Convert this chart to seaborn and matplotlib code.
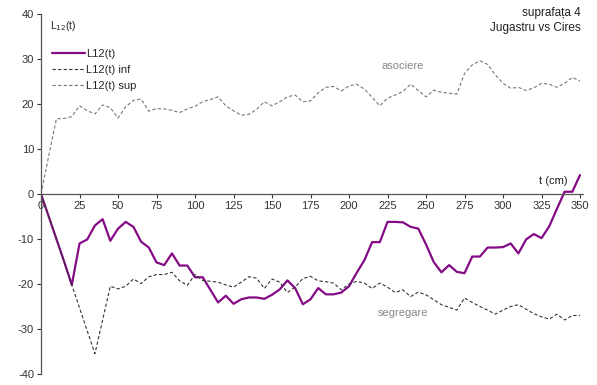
import numpy as np
import pandas as pd
import matplotlib
matplotlib.use("Agg")
import matplotlib.pyplot as plt
import seaborn as sns

# distance t (cm), every 5 cm
t_cm = list(range(0, 355, 5))

l12 = [0, -5, -10, -15, -20.2, -11, -10.1, -7.0, -5.6, -10.4,
       -7.7, -6.2, -7.3, -10.6, -11.9, -15.2, -15.8, -13.2, -15.9, -15.9,
       -18.5, -18.5, -21.3, -24.1, -22.6, -24.4, -23.4, -23.0, -23.0, -23.3,
       -22.4, -21.2, -19.2, -20.9, -24.5, -23.4, -20.9, -22.3, -22.3, -21.9,
       -20.5, -17.5, -14.7, -10.7, -10.7, -6.2, -6.2, -6.3, -7.3, -7.7,
       -11.2, -15.1, -17.4, -15.8, -17.3, -17.6, -13.9, -13.9, -11.9, -11.9,
       -11.8, -11.0, -13.2, -10.1, -8.9, -9.8, -7.2, -3.3, 0.5, 0.5,
       4.2]

l12_inf = [0, -5, -10, -15, -20.2, -25.3, -30.4, -35.5, -28, -20.5,
           -21.1, -20.5, -18.9, -19.9, -18.4, -17.9, -17.9, -17.4, -19.3, -20.3,
           -17.9, -19.2, -19.4, -19.6, -20.2, -20.7, -19.6, -18.4, -18.7, -21.0,
           -18.9, -19.6, -21.9, -20.7, -18.8, -18.3, -19.3, -19.5, -19.8, -21.3,
           -20.0, -19.4, -19.8, -21.0, -19.8, -20.7, -21.9, -21.3, -22.8, -21.8,
           -22.4, -23.5, -24.6, -25.2, -25.8, -23.1, -24.1, -25.0, -25.8, -26.7,
           -25.8, -25.0, -24.6, -25.6, -26.6, -27.3, -27.8, -26.7, -28.0, -27.0,
           -27.0]

l12_sup = [0, 8.5, 16.7, 16.8, 17.2, 19.6, 18.5, 17.8, 19.8, 19.2,
           16.9, 19.4, 20.8, 21.1, 18.4, 19.0, 18.9, 18.6, 18.1, 18.9,
           19.5, 20.5, 21.0, 21.6, 19.6, 18.5, 17.5, 17.7, 18.8, 20.5,
           19.6, 20.5, 21.6, 22.0, 20.5, 20.7, 22.5, 23.7, 23.9, 22.9,
           24.0, 24.4, 23.3, 21.5, 19.6, 21.3, 22.0, 22.8, 24.4, 23.0,
           21.6, 23.1, 22.6, 22.4, 22.2, 26.8, 28.7, 29.6, 28.8, 26.5,
           24.6, 23.5, 23.7, 23.0, 23.6, 24.6, 24.4, 23.7, 24.6, 25.9,
           25.1]

y_ticks = [40, 30, 20, 10, 0, -10, -20, -30, -40]
x_ticks = [0, 25, 50, 75, 100, 125, 150, 175, 200, 225, 250, 275, 300, 325, 350]

df = pd.DataFrame({"t": t_cm, "L12": l12, "inf": l12_inf, "sup": l12_sup})

sns.set_style("white")
plt.rcParams["font.family"] = ["Liberation Sans", "DejaVu Sans"]
plt.rcParams["axes.unicode_minus"] = False

fig = plt.figure(figsize=(5.97, 3.85), dpi=100)
ax = fig.add_axes([0.0687, 0.0286, 0.908, 0.935])

sns.lineplot(data=df, x="t", y="L12", ax=ax, color="#850a85", linewidth=1.6, label="L12(t)")
sns.lineplot(data=df, x="t", y="inf", ax=ax, color="#333333", linewidth=0.8,
             linestyle=(0, (3, 2)), label="L12(t) inf")
sns.lineplot(data=df, x="t", y="sup", ax=ax, color="#777777", linewidth=0.8,
             linestyle=(0, (3, 2)), label="L12(t) sup")

ax.set_xlim(0, 352)
ax.set_ylim(-40, 40)
ax.set_yticks(y_ticks)
ax.set_xticks(x_ticks)
ax.set_xlabel("")
ax.set_ylabel("")

for s in ["top", "right"]:
    ax.spines[s].set_visible(False)
ax.spines["bottom"].set_position(("data", 0))
ax.spines["bottom"].set_color("#555555")
ax.spines["left"].set_color("#555555")
ax.spines["bottom"].set_linewidth(0.9)
ax.spines["left"].set_linewidth(0.9)
ax.tick_params(axis="both", which="major", labelsize=8, colors="#333333",
               length=3, width=0.8, direction="out", bottom=True, left=True, pad=2)

leg = ax.legend(loc="upper left", bbox_to_anchor=(0.012, 0.915), frameon=False,
                fontsize=8, handlelength=3.0, handletextpad=0.1, labelspacing=0.55,
                borderaxespad=0)

ax.text(0.017, 0.985, "L$_{12}$(t)", transform=ax.transAxes, fontsize=7.5,
        ha="left", va="top", color="#222222")
ax.text(0.995, 1.02, "suprafața 4\nJugastru vs Cires", transform=ax.transAxes,
        fontsize=8.5, ha="right", va="top", color="#222222", linespacing=1.35)
ax.text(235, 28.5, "asociere", fontsize=8, color="#888888", ha="center", va="center")
ax.text(235, -26.4, "segregare", fontsize=8, color="#888888", ha="center", va="center")
ax.text(342, 3.0, "t (cm)", fontsize=8, color="#222222", ha="right", va="center")

fig.savefig("out.png", dpi=100)
